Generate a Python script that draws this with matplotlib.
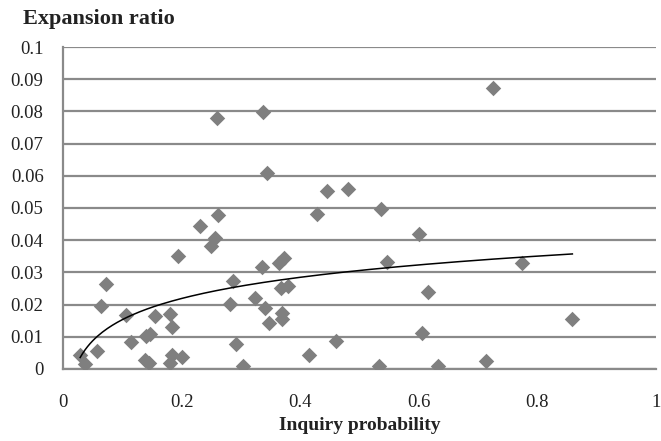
import numpy as np
import matplotlib
matplotlib.use("Agg")
import matplotlib.pyplot as plt


# inquiry probability (x) and expansion ratio (y)
INQUIRY = [0.029, 0.037, 0.057, 0.064, 0.072, 0.106, 0.115, 0.139, 0.145,
           0.140, 0.146, 0.156, 0.180, 0.183, 0.180, 0.183, 0.201, 0.194,
           0.231, 0.250, 0.257, 0.261, 0.260, 0.282, 0.286, 0.292, 0.303,
           0.324, 0.336, 0.338, 0.341, 0.344, 0.348, 0.365, 0.373, 0.368,
           0.379, 0.370, 0.370, 0.415, 0.429, 0.445, 0.461, 0.481, 0.533,
           0.537, 0.547, 0.601, 0.605, 0.616, 0.632, 0.714, 0.726, 0.774,
           0.859]
EXPANSION = [0.0043, 0.0016, 0.0057, 0.0196, 0.0263, 0.0168, 0.0085, 0.0027,
             0.0020, 0.0102, 0.0110, 0.0165, 0.0171, 0.0129, 0.0020, 0.0043,
             0.0038, 0.0352, 0.0445, 0.0383, 0.0408, 0.0478, 0.0781, 0.0202,
             0.0274, 0.0078, 0.0010, 0.0221, 0.0318, 0.0799, 0.0188, 0.0610,
             0.0142, 0.0328, 0.0344, 0.0251, 0.0258, 0.0175, 0.0154, 0.0043,
             0.0480, 0.0553, 0.0087, 0.0559, 0.0009, 0.0496, 0.0331, 0.0418,
             0.0112, 0.0240, 0.0009, 0.0025, 0.0872, 0.0330, 0.0155]

X_TICKS = [0, 0.2, 0.4, 0.6, 0.8, 1]
X_TICK_LABELS = ["0", "0.2", "0.4", "0.6", "0.8", "1"]
Y_TICKS = [0, 0.01, 0.02, 0.03, 0.04, 0.05, 0.06, 0.07, 0.08, 0.09, 0.1]
Y_TICK_LABELS = ["0", "0.01", "0.02", "0.03", "0.04", "0.05", "0.06",
                 "0.07", "0.08", "0.09", "0.1"]

GREY = "#7f7f7f"
GRID = "#8a8a8a"


def log_trend(x, y):
    # same kind of fit as a spreadsheet logarithmic trendline
    a, b = np.polyfit(np.log(x), y, 1)
    xs = np.linspace(min(x), max(x), 200)
    return xs, a * np.log(xs) + b


def main():
    plt.rcParams["font.family"] = ["Liberation Serif", "DejaVu Serif"]

    fig = plt.figure(figsize=(6.61, 4.41), dpi=100)
    ax = fig.add_axes([0.0953, 0.1633, 0.8971, 0.7301])

    ax.scatter(INQUIRY, EXPANSION, marker="D", s=62, color=GREY,
               linewidths=0, zorder=3)
    xs, ys = log_trend(np.array(INQUIRY), np.array(EXPANSION))
    ax.plot(xs, ys, color="black", lw=1.1, zorder=4)

    ax.set_xlim(0, 1)
    ax.set_ylim(0, 0.1)
    ax.set_xticks(X_TICKS)
    ax.set_xticklabels(X_TICK_LABELS)
    ax.set_yticks(Y_TICKS)
    ax.set_yticklabels(Y_TICK_LABELS)
    ax.tick_params(axis="both", length=0, labelsize=13.5, colors="#222222")
    ax.tick_params(axis="x", pad=18)
    ax.tick_params(axis="y", pad=14)

    ax.yaxis.grid(True, color=GRID, lw=1.6)
    ax.set_axisbelow(True)
    for side in ["top", "right"]:
        ax.spines[side].set_visible(False)
    for side in ["left", "bottom"]:
        ax.spines[side].set_color(GRID)
        ax.spines[side].set_linewidth(1.6)

    fig.text(0.035, 0.958, "Expansion ratio", fontsize=16, fontweight="bold",
             va="center", ha="left", color="#222222")
    fig.text(0.545, 0.036, "Inquiry probability", fontsize=14,
             fontweight="bold", va="center", ha="center", color="#222222")

    fig.savefig("out.png", dpi=100)


if __name__ == '__main__':
    main()
